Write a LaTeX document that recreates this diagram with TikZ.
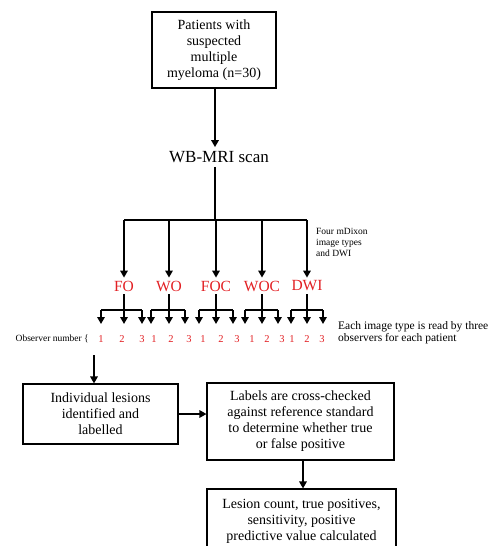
\documentclass[tikz,border=0pt]{standalone}
\usepackage{fontspec}
\setmainfont{Liberation Serif}
\usepackage{xcolor}
\usetikzlibrary{arrows.meta}

\definecolor{typered}{RGB}{226,32,36}

\tikzset{
  box/.style={draw, line width=1.1pt, align=center, inner sep=0pt,
    font=\fontsize{14}{16}\selectfont},
  flow/.style={line width=1.6pt, -{Triangle[length=7pt,width=7.5pt]}},
  bar/.style={line width=1.6pt},
  imgtype/.style={text=typered, inner sep=3pt, font=\fontsize{15.5}{18}\selectfont},
  obsnum/.style={text=typered, inner sep=0pt, font=\fontsize{10.5}{12}\selectfont},
  smallnote/.style={align=left, inner sep=0pt, font=\fontsize{9.5}{11}\selectfont}
}

\begin{document}
\begin{tikzpicture}[x=1pt, y=-1pt]
        \useasboundingbox (0,0) rectangle (493,546);
        \clip (0,0) rectangle (493,546);

        % boxes and main labels
        \node[box, minimum width=124pt, minimum height=76pt] (patients) at (214,50)
            {Patients with\\suspected\\multiple\\myeloma (n=30)};
        \node[inner sep=4pt, font=\fontsize{17}{18}\selectfont] (mri) at (219,157) {WB-MRI scan};
        \coordinate (split) at (215,220);
        \draw[flow] (patients.south -| split) -- (mri.north -| split);
        \draw[bar] (mri.south -| split) -- (split);
        \draw[bar] (124,220) -- (307,220);

        % the five image types, each read by three observers
        \foreach \lab/\x/\l/\r in {FO/124/101/142, WO/169/151/185, FOC/216/199/233, WOC/262/245/278, DWI/307/291/323}{
            \node[imgtype] (t\lab) at (\x,286) {\lab};
            \draw[flow] (\x,220) -- (t\lab.north);
            \coordinate (b\lab) at (\x,310);
            \draw[bar] (t\lab.south) -- (b\lab);
            \draw[bar] (\l,310) -- (\r,310);
            \foreach \xx in {\l,\x,\r}
                \draw[flow] (\xx,310) -- (\xx,324);
        }
        \foreach \n/\x in {1/101,2/122,3/142,1/154,2/171,3/189,1/203,2/221,3/237,
                           1/252,2/267,3/282,1/292,2/307,3/322}
            \node[obsnum] at (\x,339) {\n};

        \node[smallnote, anchor=north west] (mdixon) at (316,228)
            {Four mDixon\\image types\\and DWI};
        \node[smallnote, anchor=east] (observer) at (89,339) {Observer number \{};
        \node[align=left, inner sep=0pt, anchor=west, font=\fontsize{11.5}{12}\selectfont] (readers) at (338,333)
            {Each image type is read by three\\observers for each patient};

        % reading steps
        \node[box, minimum width=155pt, minimum height=60pt] (lesions) at (100.5,414)
            {Individual lesions\\identified and\\labelled};
        \node[box, minimum width=187pt, minimum height=77pt] (check) at (300.5,421.5)
            {Labels are cross-checked\\against reference standard\\to determine whether true\\or false positive};
        \node[box, minimum width=189pt, minimum height=64pt] (count) at (301.5,521)
            {Lesion count, true positives,\\sensitivity, positive\\predictive value calculated};

        \coordinate (obsout) at (94,355);
        \draw[flow] (obsout) -- (lesions.north -| obsout);
        \draw[flow] (lesions.east) -- (check.west |- lesions.east);
        \draw[flow] (check.south -| 303,0) -- (count.north -| 303,0);
\end{tikzpicture}
\end{document}
